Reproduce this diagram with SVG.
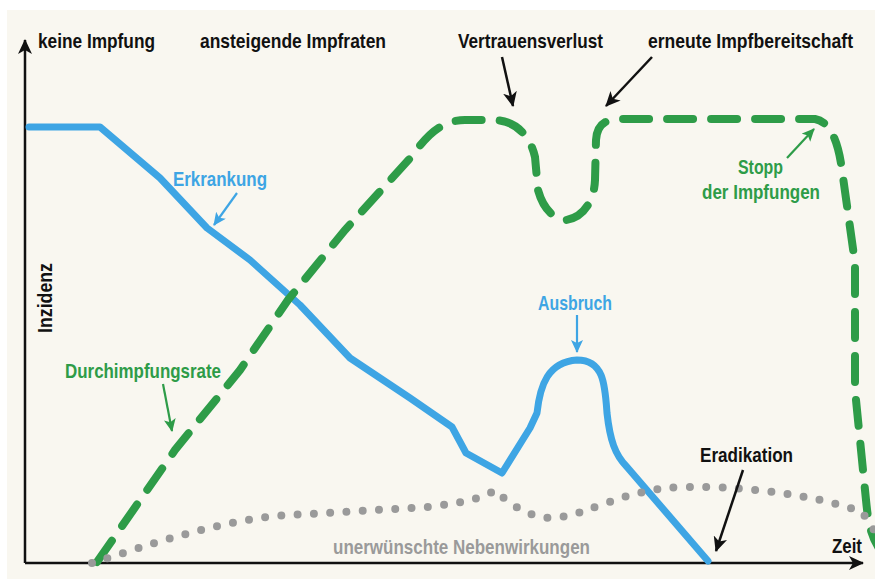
<svg xmlns="http://www.w3.org/2000/svg" width="875" height="581" viewBox="0 0 875 581">
<defs>
<style>
text{font-family:"Liberation Sans Narrow","Liberation Sans",Arial,sans-serif;font-weight:bold;font-size:21px}
.blk{fill:#111}
.bl{fill:#3ea5e4}
.gr{fill:#2e9c48}
.gy{fill:#9a9a9a}
.axis{stroke:#111;stroke-width:2.5;fill:none}
.ptr{stroke:#111;stroke-width:2.5;fill:none}
.ptrb{stroke:#3ea5e4;stroke-width:2.2;fill:none}
.ptrg{stroke:#2e9c48;stroke-width:2.2;fill:none}
.curveB{stroke:#3ea5e4;stroke-width:7;fill:none;stroke-linecap:round;stroke-linejoin:round}
.curveG{stroke:#2e9c48;stroke-width:8;fill:none;stroke-linecap:round;stroke-dasharray:26 18}
.curveY{stroke:#9a9a9a;stroke-width:8;fill:none;stroke-linecap:round;stroke-dasharray:0 16.3}
</style>
<marker id="ak" markerUnits="userSpaceOnUse" markerWidth="16" markerHeight="14" refX="14" refY="7" orient="auto"><path d="M0,0 L15,7 L0,14 L4,7 z" fill="#111"/></marker>
<marker id="ab" markerUnits="userSpaceOnUse" markerWidth="14" markerHeight="12" refX="12" refY="6" orient="auto"><path d="M0,0 L13,6 L0,12 L3,6 z" fill="#3ea5e4"/></marker>
<marker id="ag" markerUnits="userSpaceOnUse" markerWidth="14" markerHeight="12" refX="12" refY="6" orient="auto"><path d="M0,0 L13,6 L0,12 L3,6 z" fill="#2e9c48"/></marker>
</defs>
<rect x="0" y="0" width="875" height="581" fill="#ffffff"/>
<rect x="7" y="10" width="868" height="569" fill="#f9f7f0"/>

<g id="axes">
<path class="axis" d="M25,563 L25,40" marker-end="url(#ak)"/>
<path class="axis" d="M25,563 L863,563" marker-end="url(#ak)"/>
<text id="y-label" class="blk" transform="translate(52,298) rotate(-90)" text-anchor="middle" textLength="70" lengthAdjust="spacingAndGlyphs">Inzidenz</text>
<text id="x-label" class="blk" x="862" y="553" text-anchor="end" textLength="30" lengthAdjust="spacingAndGlyphs">Zeit</text>
</g>

<g id="phase-labels">
<text id="keine-impfung" class="blk" x="38" y="48" textLength="117" lengthAdjust="spacingAndGlyphs">keine Impfung</text>
<text id="ansteigende-impfraten" class="blk" x="200" y="48" textLength="186" lengthAdjust="spacingAndGlyphs">ansteigende Impfraten</text>
<text id="vertrauensverlust" class="blk" x="458" y="48" textLength="145" lengthAdjust="spacingAndGlyphs">Vertrauensverlust</text>
<text id="erneute-impfbereitschaft" class="blk" transform="translate(648,48) scale(1,1.2)" x="0" y="0" style="font-size:17.5px" textLength="205" lengthAdjust="spacingAndGlyphs">erneute Impfbereitschaft</text>
<text id="eradikation" class="blk" x="700" y="462" textLength="93" lengthAdjust="spacingAndGlyphs">Eradikation</text>
</g>

<g id="erkrankung">
<path class="curveB" d="M29,127 L100,127 L160,178 L207,228 L250,260 L300,305 L350,358 L410,398 L452,427 L466,453 L502,473 L530,428 L537,413 C540,385 548,362 577,360 C604,360 605,385 607,413 C610,440 615,455 627,467 L708,561"/>
<text class="bl" x="173" y="186" textLength="94" lengthAdjust="spacingAndGlyphs">Erkrankung</text>
<text id="ausbruch" class="bl" x="538" y="310" textLength="74" lengthAdjust="spacingAndGlyphs">Ausbruch</text>
</g>

<g id="durchimpfungsrate">
<path class="curveG" d="M97,562 L175,450 L240,370 L288,300 L345,230 L413,155 C425,138 440,120 465,120 L493,120 C515,120 530,135 535,157 L538,190 C542,205 552,220 566,220 C580,218 594,205 595,180 L596,140 C597,125 605,119 620,119 L815,119 C830,122 838,140 842,170 L855,263 L855,390 L866,500 C868,520 870,535 880,550"/>
<text class="gr" x="65" y="378" textLength="156" lengthAdjust="spacingAndGlyphs">Durchimpfungsrate</text>
<text id="stopp" class="gr" x="738" y="174" textLength="45" lengthAdjust="spacingAndGlyphs">Stopp</text>
<text id="stopp2" class="gr" x="820" y="199" text-anchor="end" textLength="118" lengthAdjust="spacingAndGlyphs">der Impfungen</text>
</g>

<g id="nebenwirkungen">
<path class="curveY" d="M92,563 C150,545 230,515 310,514 L427,507 C460,503 480,500 495,490 C510,505 530,518 552,518 C590,515 620,490 680,487 L712,487 C780,490 830,500 862,512 L874,530"/>
<text class="gy" x="333" y="554" textLength="257" lengthAdjust="spacingAndGlyphs">unerwünschte Nebenwirkungen</text>
</g>

<g id="connectors">
<path class="ptr" d="M502,57 L513,106" marker-end="url(#ak)"/>
<path class="ptr" d="M652,57 L606,106" marker-end="url(#ak)"/>
<path class="ptr" d="M743,470 L716,551" marker-end="url(#ak)"/>
<path class="ptrb" d="M237,193 L214,225" marker-end="url(#ab)"/>
<path class="ptrb" d="M577,315 L577,352" marker-end="url(#ab)"/>
<path class="ptrg" d="M163,384 L172,431" marker-end="url(#ag)"/>
<path class="ptrg" d="M787,158 L814,129" marker-end="url(#ag)"/>
</g>
</svg>
